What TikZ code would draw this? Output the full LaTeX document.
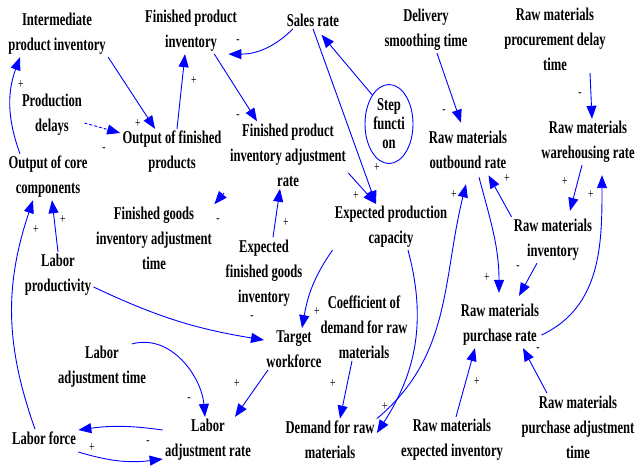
\documentclass[tikz,border=0pt]{standalone}
\usepackage{fontspec}
\setmainfont{Liberation Serif}[FakeStretch=0.7]
\usetikzlibrary{arrows.meta,shapes.geometric}

\begin{document}
\begin{tikzpicture}[x=1pt,y=-1pt,line width=0.9pt]
   \tikzset{var/.style={align=center,inner sep=2pt,font=\fontsize{18}{25}\bfseries\selectfont},
            lnk/.style={draw=blue,-{Triangle[length=13pt,width=10pt]}},
            sgn/.style={inner sep=0pt,font=\fontsize{14}{14}\selectfont}};
\useasboundingbox (0,0) rectangle (636,469);

\node[var] (ipi) at (57,34) {Intermediate\\product inventory};
\node[var] (fpi) at (191,31) {Finished product\\inventory};
\node[var] (sr) at (313,20) {Sales rate};
\node[var] (dst) at (426,30) {Delivery\\smoothing time};
\node[var] (rmpdt) at (555,39) {Raw materials\\procurement delay\\time};
\node[var] (pd) at (52,115) {Production\\delays};
\node[var] (ofp) at (172,152) {Output of finished\\products};
\node[var] (occ) at (48,177) {Output of core\\components};
\node[var,draw=blue,ellipse,inner sep=0pt,minimum width=48pt,minimum height=79pt,
      font=\fontsize{18}{19}\bfseries\selectfont] (step) at (389,124) {Step\\functi\\on};
\node[var] (fpiar) at (288,155) {Finished product\\inventory adjustment\\rate};
\node[var] (rmor) at (468,150) {Raw materials\\outbound rate};
\node[var] (rmwr) at (588,142) {Raw materials\\warehousing rate};
\node[var] (fgiat) at (154,238) {Finished goods\\inventory adjustment\\time};
\node[var] (epc) at (391,227) {Expected production\\capacity};
\node[var] (rmi) at (553,240) {Raw materials\\inventory};
\node[var] (lp) at (58,275) {Labor\\productivity};
\node[var] (efgi) at (264,273) {Expected\\finished goods\\inventory};
\node[var] (cdrm) at (364,327) {Coefficient of\\demand for raw\\materials};
\node[var] (tw) at (294,349) {Target\\workforce};
\node[var] (rmpr) at (500,325) {Raw materials\\purchase rate};
\node[var] (lat) at (102,367) {Labor\\adjustment time};
\node[var] (lar) at (208,440) {Labor\\adjustment rate};
\node[var] (lf) at (44,438) {Labor force};
\node[var] (drm) at (330,440) {Demand for raw\\materials};
\node[var] (rmei) at (452,440) {Raw materials\\expected inventory};
\node[var] (rmpat) at (578,427) {Raw materials\\purchase adjustment\\time};

\draw[lnk] ([xshift=-28pt]occ.north) to[bend left=20] ([xshift=-37pt]ipi.south);
\draw[lnk] (ipi.south east) -- ([xshift=-17pt]ofp.north);
\draw[lnk,densely dashed] ([yshift=-8pt]pd.east) -- ([yshift=19pt]ofp.west);
\draw[lnk] ([xshift=5pt]ofp.north) -- ([xshift=-6pt]fpi.south);
\draw[lnk] ([xshift=-20pt]sr.south) to[out=-135,in=0] ([xshift=-11pt]fpi.south east);
\draw[lnk] ([xshift=-25pt]fpi.south east) -- ([xshift=-31pt]fpiar.north);
\draw[lnk] (sr.south) -- ([xshift=-15pt]epc.north);
\draw[lnk] ([yshift=-18pt]fpiar.east) -- ([xshift=-15pt]epc.north);
\draw[lnk] (step.120) -- ([xshift=-20pt,yshift=-6pt]sr.south east);
\coordinate (fgt) at (224,193);
\draw[lnk] (fgt) -- (fgiat.north east);
\draw[lnk] ([xshift=9pt]efgi.north) -- ([xshift=-8pt]fpiar.south);
\draw[lnk] (epc.south west) to[out=-125,in=80] ([xshift=8pt]tw.north);
\draw[lnk] ([yshift=-12pt]lp.east) to[bend right=8] ([yshift=9pt]tw.west);
\draw[lnk] ([xshift=-26pt]tw.south) -- ([xshift=27pt]lar.north);
\draw[lnk] ([xshift=30pt]lat.north) to[out=15,in=95] ([xshift=-3pt]lar.north);
\draw[lnk] ([yshift=10pt]lar.west) to[bend right=8] ([yshift=8pt]lf.east);
\draw[lnk] ([yshift=-14pt]lf.east) to[bend right=12] ([yshift=-19pt]lar.west);
\draw[lnk] ([xshift=-9pt]lf.north) to[bend left=19] ([xshift=-15pt]occ.south);
\draw[lnk] (lp.north) -- ([xshift=4pt]occ.south);
\draw[lnk] ([xshift=-12pt]cdrm.south) -- ([xshift=10pt]drm.north);
\draw[lnk] ([xshift=17pt]epc.south) to[out=-75,in=57] ([yshift=7pt]drm.east);
\draw[lnk] (drm.north east) to[out=40,in=-104] ([xshift=-2pt,yshift=-13pt]rmor.south);
\draw[lnk] ([xshift=11pt,yshift=-6pt]rmor.south) to[out=-75,in=90] ([xshift=-1pt,yshift=9pt]rmpr.north);
\draw[lnk] (rmi.north west) -- ([xshift=-21pt,yshift=-4pt]rmor.south east);
\draw[lnk] ([xshift=-16pt]rmi.south) -- ([xshift=19pt,yshift=6pt]rmpr.north);
\draw[lnk] ([xshift=-6pt]rmwr.south) -- ([xshift=17pt,yshift=6pt]rmi.north);
\draw[lnk] ([yshift=-10pt]rmpr.east) to[out=25,in=-90] ([xshift=14pt,yshift=-10pt]rmwr.south);
\draw[lnk] ([xshift=11pt]dst.south) -- ([xshift=-7pt,yshift=6pt]rmor.north);
\draw[lnk] ([xshift=35pt]rmpdt.south) -- ([xshift=4pt]rmwr.north);
\draw[lnk] ([xshift=4pt]rmei.north) -- ([xshift=-25pt]rmpr.south);
\draw[lnk] ([xshift=-31pt]rmpat.north) -- ([xshift=23pt]rmpr.south);

\node[sgn] (s1) at (21,85) {+};
\node[sgn] (s2) at (138,124) {+};
\node[sgn] (s3) at (104,150) {-};
\node[sgn] (s4) at (194,81) {+};
\node[sgn] (s5) at (238,42) {-};
\node[sgn] (s6) at (238,117) {-};
\node[sgn] (s7) at (377,168) {+};
\node[sgn] (s8) at (356,196) {+};
\node[sgn] (s9) at (218,221) {-};
\node[sgn] (s10) at (286,223) {+};
\node[sgn] (s11) at (317,312) {+};
\node[sgn] (s12) at (252,318) {-};
\node[sgn] (s13) at (237,384) {+};
\node[sgn] (s14) at (189,400) {-};
\node[sgn] (s15) at (148,443) {-};
\node[sgn] (s16) at (92,448) {+};
\node[sgn] (s17) at (36,230) {+};
\node[sgn] (s18) at (63,220) {+};
\node[sgn] (s19) at (333,384) {+};
\node[sgn] (s20) at (385,407) {+};
\node[sgn] (s21) at (454,195) {+};
\node[sgn] (s22) at (487,278) {+};
\node[sgn] (s23) at (507,179) {+};
\node[sgn] (s24) at (518,268) {-};
\node[sgn] (s25) at (565,182) {+};
\node[sgn] (s26) at (591,195) {+};
\node[sgn] (s27) at (444,112) {-};
\node[sgn] (s28) at (580,95) {-};
\node[sgn] (s29) at (477,382) {+};
\node[sgn] (s30) at (538,350) {-};

\end{tikzpicture}
\end{document}
